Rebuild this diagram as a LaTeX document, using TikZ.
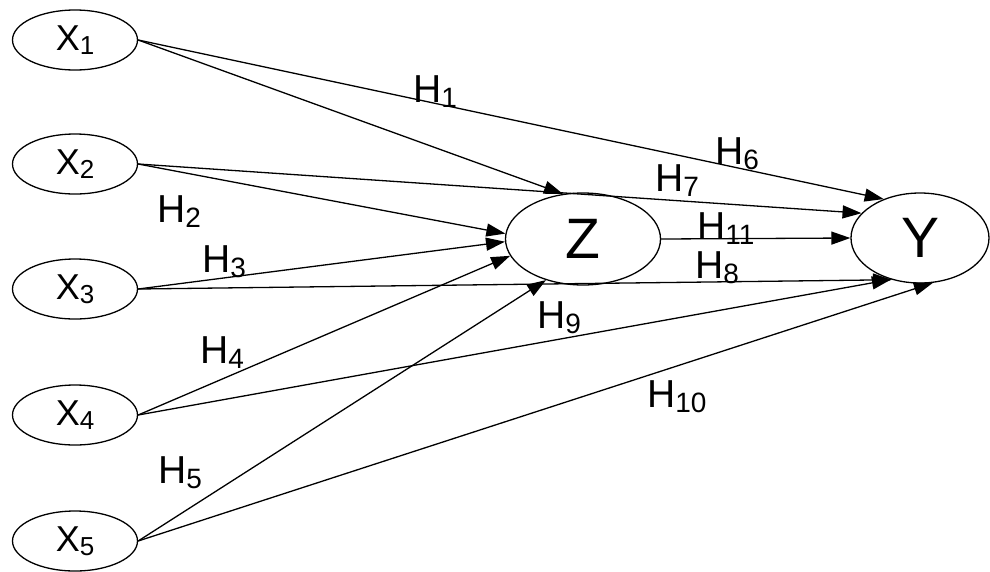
\documentclass[tikz,border=0pt]{standalone}
\usepackage{fontspec}
\setmainfont{Liberation Sans}
\usetikzlibrary{positioning,arrows.meta,shapes.geometric}
\newcommand{\varlbl}[2]{#1\raisebox{-4pt}{\fontsize{26}{26}\selectfont #2}}
\newcommand{\hyplbl}[1]{H\raisebox{-5pt}{\fontsize{28}{28}\selectfont #1}}
\tikzset{
  xvar/.style={draw,ellipse,line width=1.3pt,minimum width=125pt,
            minimum height=60pt,inner sep=0pt,font=\fontsize{36}{40}\selectfont},
  zvar/.style={xvar,minimum width=155pt,minimum height=92pt,
            font=\fontsize{57}{60}\selectfont},
  yvar/.style={zvar,minimum width=138pt,minimum height=90pt},
  effect/.style={-{Triangle[length=19pt,width=13pt]},line width=1.3pt},
  hyp/.style={anchor=base west,inner sep=0pt,font=\fontsize{39}{44}\selectfont},
}
\begin{document}
\begin{tikzpicture}[x=1pt,y=-1pt]
  \useasboundingbox (0,0) rectangle (990,571);
  \node[xvar] (x1) at (75,40)  {\varlbl{X}{1}};
  \node[xvar] (x2) at (75,164) {\varlbl{X}{2}};
  \node[xvar] (x3) at (75,289) {\varlbl{X}{3}};
  \node[xvar] (x4) at (75,415) {\varlbl{X}{4}};
  \node[xvar] (x5) at (75,541) {\varlbl{X}{5}};
  \node[zvar] (z) at (583,239) {Z};
  \node[yvar] (y) at (920,238) {Y};
  % paths into Z
  \draw[effect] (x1.east) -- (z.114);
  \draw[effect] (x2.east) -- (z.176);
  \draw[effect] (x3.east) -- (z.182);
  \draw[effect] (x4.east) -- (z.193);
  \draw[effect] (x5.east) -- (z.228);
  % paths into Y
  \draw[effect] (x1.east) -- (y.133);
  \draw[effect] (x2.east) -- (y.157);
  \draw[effect] (x3.east) -- (y.236);
  \draw[effect] (x4.east) -- (y.235);
  \draw[effect] (x5.east) -- (y.286);
  \draw[effect] (z.east) -- (y.west);
  % hypotheses
  \node[hyp] (h1)  at (413,102) {\hyplbl{1}};
  \node[hyp] (h2)  at (157,222) {\hyplbl{2}};
  \node[hyp] (h3)  at (202,272) {\hyplbl{3}};
  \node[hyp] (h4)  at (200,363) {\hyplbl{4}};
  \node[hyp] (h5)  at (158,483) {\hyplbl{5}};
  \node[hyp] (h6)  at (715,164) {\hyplbl{6}};
  \node[hyp] (h7)  at (655,191) {\hyplbl{7}};
  \node[hyp] (h8)  at (695,278) {\hyplbl{8}};
  \node[hyp] (h9)  at (537,328) {\hyplbl{9}};
  \node[hyp] (h10) at (647,407) {\hyplbl{10}};
  \node[hyp] (h11) at (697,239) {\hyplbl{11}};
\end{tikzpicture}
\end{document}
